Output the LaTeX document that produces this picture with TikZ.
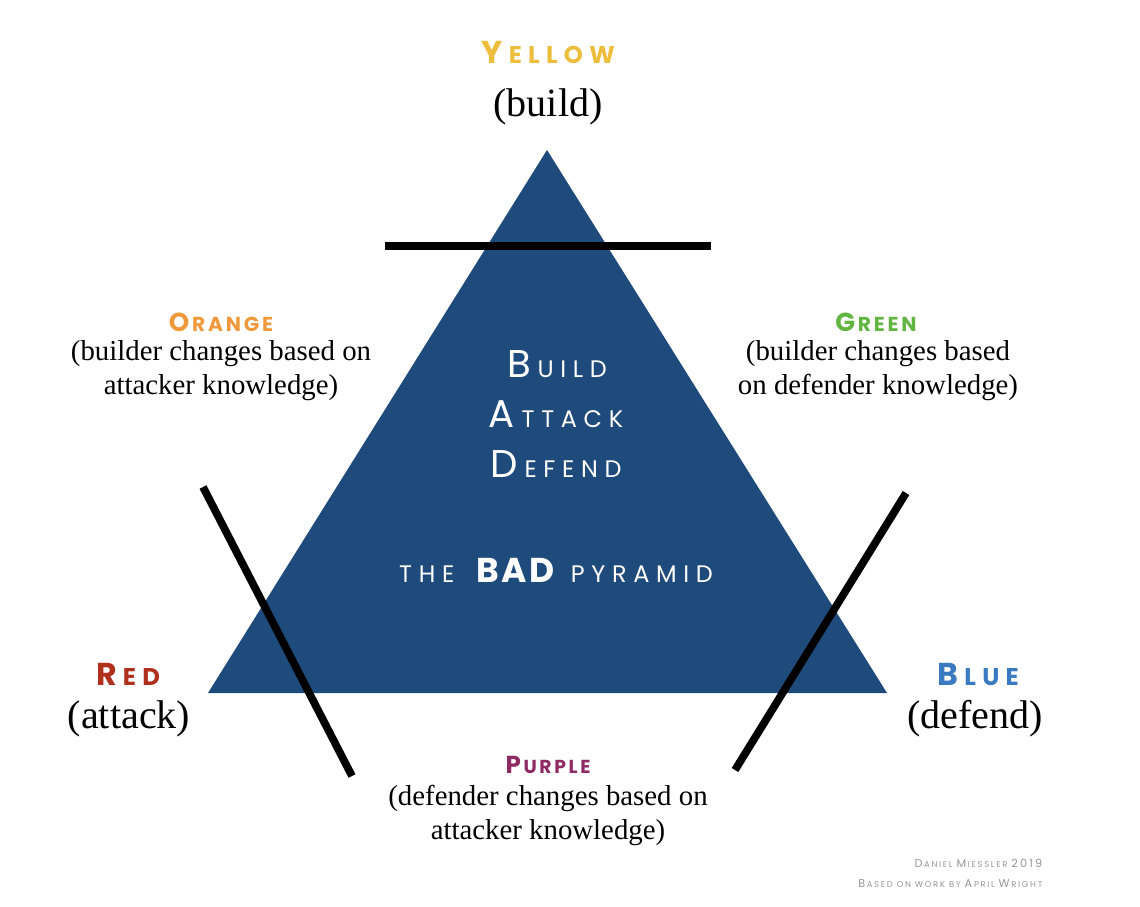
\documentclass[tikz,border=0pt]{standalone}
\usepackage{fontspec}
\usepackage{xcolor}
\usepackage{tikz}
\usetikzlibrary{positioning}
\setmainfont{Liberation Serif}
\newfontfamily\capsfont[LetterSpace=28]{Poppins}
\newfontfamily\cornerfont[LetterSpace=26]{Poppins}
\newfontfamily\sidefont[LetterSpace=14]{Poppins}
\newfontfamily\badfont[LetterSpace=8]{Poppins}
\newfontfamily\creditfont[LetterSpace=20]{Poppins}
\definecolor{pyramid}{RGB}{31,75,124}
\definecolor{cyellow}{RGB}{237,190,60}
\definecolor{corange}{RGB}{240,153,60}
\definecolor{cgreen}{RGB}{99,181,65}
\definecolor{cred}{RGB}{176,48,30}
\definecolor{cblue}{RGB}{58,122,192}
\definecolor{cpurple}{RGB}{142,43,99}
\definecolor{credit}{RGB}{150,150,150}
% first letter big, the rest as small capitals
\def\capgap{.28em}
\newcommand\capw[4]{{\fontsize{#1}{#1}\selectfont#3}{\fontsize{#2}{#2}\selectfont\kern\capgap#4}}

\begin{document}
\begin{tikzpicture}[x=0.1mm, y=-0.1mm,
    team/.style={font={\cornerfont\bfseries\def\capgap{.26em}}, anchor=base, inner sep=0pt},
    side/.style={font={\sidefont\bfseries\def\capgap{.14em}}, anchor=base, inner sep=0pt},
    role/.style={font=\fontsize{11.4}{13}\selectfont, anchor=base, inner sep=0pt},
    desc/.style={font=\fontsize{8.2}{9.6}\selectfont, align=center, anchor=base, inner sep=0pt},
    core/.style={font=\capsfont, text=white, anchor=base, inner sep=0pt},
    small/.style={font={\creditfont\fontsize{2.4}{2.4}\selectfont\def\capgap{.2em}}, text=credit, anchor=base east, inner sep=0pt},
    bar/.style={line width=2.2pt, black}]
  \useasboundingbox (0,0) rectangle (1140,906);
  % the pyramid
  \fill[pyramid] (547,150) -- (887,693) -- (208,693) -- cycle;
  \draw[bar] (385,246) -- (711,246);
  \draw[bar] (203,487) -- (352,776);
  \draw[bar] (906,493) -- (735,770);
  % words inside
  \node[core] (build) at (557,377) {\capw{11}{6.8}{B}{UILD}};
  \node[core] (attack) at (556,427) {\capw{11}{6.8}{A}{TTACK}};
  \node[core] (defend) at (556,477) {\capw{11}{6.8}{D}{EFEND}};
  \node[core] (title) at (556,582)
    {{\fontsize{6.8}{6.8}\selectfont THE}\hspace{2.2mm}{\badfont\fontsize{9.8}{9.8}\selectfont\bfseries BAD}\hspace{1.6mm}{\fontsize{6.8}{6.8}\selectfont PYRAMID}};
  % corners
  \node[team, text=cyellow] (yellow) at (548,64) {\capw{9}{6.9}{Y}{ELLOW}};
  \node[role] (yellowrole) at (548,117) {(build)};
  \node[team, text=cred] (red) at (128,685) {\capw{9}{6.9}{R}{ED}};
  \node[role] (redrole) at (129,728) {(attack)};
  \node[team, text=cblue] (blue) at (978,685) {\capw{9}{6.9}{B}{LUE}};
  \node[role] (bluerole) at (975,728) {(defend)};
  % sides (base = last line)
  \node[side, text=corange] (orange) at (221,331) {\capw{7.4}{5.75}{O}{RANGE}};
  \node[desc] (orangedesc) at (221,394) {(builder changes based on\\attacker knowledge)};
  \node[side, text=cgreen] (green) at (876,331) {\capw{7.4}{5.75}{G}{REEN}};
  \node[desc] (greendesc) at (878,394) {(builder changes based\\on defender knowledge)};
  \node[side, text=cpurple] (purple) at (548,773) {\capw{7}{5.35}{P}{URPLE}};
  \node[desc] (purpledesc) at (548,839) {(defender changes based on\\attacker knowledge)};
  % credit
  \node[small] (author) at (1043,867)
    {\capw{3.2}{2.4}{D}{ANIEL} \capw{3.2}{2.4}{M}{IESSLER} {\fontsize{3.2}{3.2}\selectfont 2019}};
  \node[small] (source) at (1043,887)
    {\capw{3.2}{2.4}{B}{ASED} ON WORK BY \capw{3.2}{2.4}{A}{PRIL} \capw{3.2}{2.4}{W}{RIGHT}};
\end{tikzpicture}
\end{document}
